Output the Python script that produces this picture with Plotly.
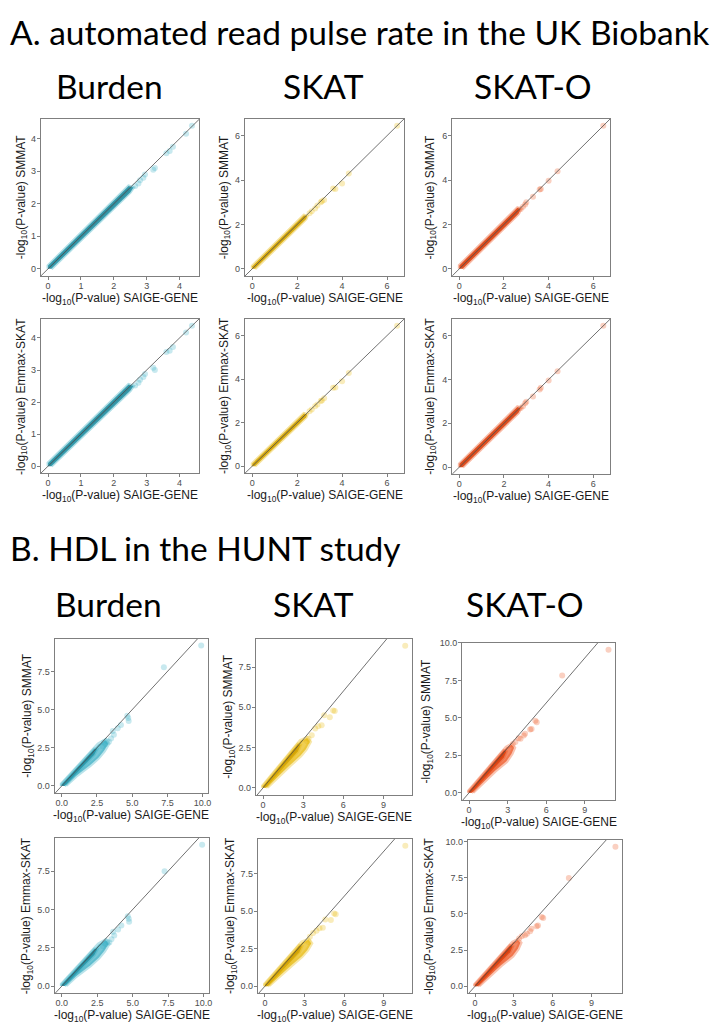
import plotly.graph_objects as go

W, H = 725, 1023

# ---------------- A. automated read pulse rate, UK Biobank ----------------
# genes outside the dense band: x = SAIGE-GENE, y = SMMAT / Emmax-SKAT  (-log10 P)
A_BURDEN_SAIGE = [2.65, 2.75, 2.8, 2.9, 2.95, 3.2, 3.25, 3.6, 3.7, 3.8, 4.2, 4.38]
A_BURDEN_SMMAT = [2.55, 2.62, 2.72, 2.8, 2.9, 3.05, 3.1, 3.55, 3.62, 3.75, 4.15, 4.4]
A_BURDEN_EMMAX = [2.52, 2.6, 2.7, 2.78, 2.88, 3.07, 3.0, 3.56, 3.6, 3.72, 4.17, 4.38]
A_SKAT_SAIGE = [2.55, 2.65, 2.8, 2.9, 3.05, 3.1, 3.2, 3.6, 3.7, 4.0, 4.3, 6.45]
A_SKAT_SMMAT = [2.5, 2.6, 2.72, 2.85, 3.0, 3.05, 3.1, 3.62, 3.6, 3.85, 4.3, 6.45]
A_SKAT_EMMAX = [2.52, 2.6, 2.75, 2.83, 3.0, 3.02, 3.12, 3.6, 3.62, 3.9, 4.28, 6.45]
A_SKATO_SAIGE = [2.75, 2.85, 2.95, 3.0, 3.3, 3.6, 3.65, 4.0, 4.4, 6.45]
A_SKATO_SMMAT = [2.7, 2.8, 2.9, 3.0, 3.25, 3.58, 3.6, 3.97, 4.4, 6.45]
A_SKATO_EMMAX = [2.7, 2.78, 2.92, 2.98, 3.22, 3.55, 3.62, 3.95, 4.38, 6.45]
# outline of the dense band of genes
A_BURDEN_BAND_SAIGE = [0.0, 0.0, 2.45, 2.6, 2.5, 0.1]
A_BURDEN_BAND_OTHER = [0.0, 0.1, 2.55, 2.5, 2.35, 0.0]
A_SKAT_BAND_SAIGE = [0.0, 0.0, 2.3, 2.45, 2.4, 0.12]
A_SKAT_BAND_OTHER = [0.0, 0.12, 2.42, 2.38, 2.25, 0.0]
A_SKATO_BAND_SAIGE = [0.0, 0.0, 2.6, 2.75, 2.65, 0.15]
A_SKATO_BAND_OTHER = [0.0, 0.15, 2.75, 2.68, 2.48, 0.0]

# ---------------- B. HDL, HUNT study ----------------
B_BURDEN_SAIGE = [2.9, 3.0, 3.1, 3.2, 3.35, 3.5, 3.62, 3.7, 3.97, 4.2, 4.65, 4.72, 4.75, 7.25, 9.9]
B_BURDEN_SMMAT = [2.6, 2.85, 2.75, 2.95, 2.9, 3.1, 3.6, 3.35, 3.78, 3.99, 4.6, 4.45, 4.25, 7.78, 9.2]
B_BURDEN_EMMAX = [2.6, 2.8, 2.75, 2.9, 2.85, 3.05, 3.55, 3.3, 3.7, 3.95, 4.55, 4.4, 4.2, 7.5, 9.22]
B_SKAT_SAIGE = [3.3, 3.4, 3.64, 3.9, 4.13, 4.38, 4.57, 4.99, 5.24, 5.36, 10.63]
B_SKAT_SMMAT = [2.9, 3.05, 3.27, 3.68, 3.82, 3.89, 4.5, 4.38, 4.8, 4.77, 8.83]
B_SKAT_EMMAX = [2.95, 3.3, 3.55, 3.7, 3.87, 3.9, 4.45, 4.42, 4.85, 4.8, 9.37]
B_SKATO_SAIGE = [3.4, 3.6, 3.85, 4.0, 4.25, 4.35, 4.75, 4.86, 5.15, 5.26, 7.24, 10.84]
B_SKATO_SMMAT = [3.25, 3.38, 3.64, 3.6, 3.82, 3.93, 4.22, 4.25, 4.8, 4.7, 7.83, 9.55]
B_SKATO_EMMAX = [3.3, 3.45, 3.52, 3.64, 3.8, 3.98, 4.15, 4.2, 4.8, 4.72, 7.5, 9.66]
# outline of the whole cloud and of its dense core
B_BURDEN_CLOUD_SAIGE = [0.0, 0.0, 1.0, 2.0, 2.6, 3.1, 3.3, 3.0, 2.6, 2.0, 1.0, 0.3]
B_BURDEN_CLOUD_OTHER = [0.0, 0.12, 1.12, 2.12, 2.72, 3.0, 2.75, 2.3, 1.85, 1.35, 0.65, 0.05]
B_BURDEN_CORE_SAIGE = [0.0, 0.0, 2.3, 2.5, 2.3, 0.2]
B_BURDEN_CORE_OTHER = [0.0, 0.1, 2.42, 2.4, 2.05, 0.0]
B_SKAT_CLOUD_SAIGE = [0.0, 0.0, 1.0, 2.0, 2.8, 3.3, 3.5, 3.2, 2.8, 2.0, 1.0, 0.3]
B_SKAT_CLOUD_OTHER = [0.0, 0.12, 1.12, 2.12, 2.92, 3.1, 2.85, 2.4, 2.0, 1.4, 0.65, 0.05]
B_SKAT_CORE_SAIGE = [0.0, 0.0, 2.6, 2.8, 2.6, 0.2]
B_SKAT_CORE_OTHER = [0.0, 0.1, 2.72, 2.65, 2.25, 0.0]
B_SKATO_CLOUD_SAIGE = [0.0, 0.0, 1.0, 2.0, 2.9, 3.3, 3.5, 3.3, 2.9, 2.0, 1.0, 0.3]
B_SKATO_CLOUD_OTHER = [0.0, 0.12, 1.12, 2.12, 3.02, 3.2, 3.0, 2.6, 2.1, 1.45, 0.65, 0.05]
B_SKATO_CORE_SAIGE = [0.0, 0.0, 2.7, 2.9, 2.7, 0.2]
B_SKATO_CORE_OTHER = [0.0, 0.1, 2.82, 2.75, 2.35, 0.0]

# tick labels
TICKS_1 = [0, 1, 2, 3, 4]
TICKS_2 = [0, 2, 4, 6]
TICKS_3 = [0, 3, 6, 9]
TICKS_25 = [0.0, 2.5, 5.0, 7.5, 10.0]

COLORS = {  # (light points, dense core)
    "Burden": ("#3AAFC4", "#1E8293"),
    "SKAT": ("#E8B90C", "#C99A00"),
    "SKAT-O": ("#EE5522", "#D23A08"),
}

AX_FONT = "Liberation Sans, Arial, sans-serif"
BIG_FONT = "Lato, Carlito, sans-serif"


def rgba(hexc, a):
    h = hexc.lstrip("#")
    return "rgba(%d,%d,%d,%.2f)" % (int(h[0:2], 16), int(h[2:4], 16), int(h[4:6], 16), a)


def span(*lists):
    vals = [v for lst in lists for v in lst]
    lo, hi = min(vals), max(vals)
    pad = 0.05 * (hi - lo)
    return [lo - pad, hi + pad]


# box = (left, top, right, bottom) in px
panels = [
    dict(box=(33, 107, 192, 265), test="Burden", x=A_BURDEN_SAIGE, y=A_BURDEN_SMMAT,
         core=(A_BURDEN_BAND_SAIGE, A_BURDEN_BAND_OTHER), cloud=None,
         xt=TICKS_1, yt=TICKS_1, xf="", yf="", ylab="SMMAT", yoff=19),
    dict(box=(238, 107, 398, 265), test="SKAT", x=A_SKAT_SAIGE, y=A_SKAT_SMMAT,
         core=(A_SKAT_BAND_SAIGE, A_SKAT_BAND_OTHER), cloud=None,
         xt=TICKS_2, yt=TICKS_2, xf="", yf="", ylab="SMMAT", yoff=20),
    dict(box=(446, 107, 605, 265), test="SKAT-O", x=A_SKATO_SAIGE, y=A_SKATO_SMMAT,
         core=(A_SKATO_BAND_SAIGE, A_SKATO_BAND_OTHER), cloud=None,
         xt=TICKS_2, yt=TICKS_2, xf="", yf="", ylab="SMMAT", yoff=21),
    dict(box=(33, 308, 192, 463), test="Burden", x=A_BURDEN_SAIGE, y=A_BURDEN_EMMAX,
         core=(A_BURDEN_BAND_SAIGE, A_BURDEN_BAND_OTHER), cloud=None,
         xt=TICKS_1, yt=TICKS_1, xf="", yf="", ylab="Emmax-SKAT", yoff=19),
    dict(box=(238, 308, 398, 463), test="SKAT", x=A_SKAT_SAIGE, y=A_SKAT_EMMAX,
         core=(A_SKAT_BAND_SAIGE, A_SKAT_BAND_OTHER), cloud=None,
         xt=TICKS_2, yt=TICKS_2, xf="", yf="", ylab="Emmax-SKAT", yoff=20),
    dict(box=(446, 308, 605, 464), test="SKAT-O", x=A_SKATO_SAIGE, y=A_SKATO_EMMAX,
         core=(A_SKATO_BAND_SAIGE, A_SKATO_BAND_OTHER), cloud=None,
         xt=TICKS_2, yt=TICKS_2, xf="", yf="", ylab="Emmax-SKAT", yoff=21),
    dict(box=(47, 629, 201, 784), test="Burden", x=B_BURDEN_SAIGE, y=B_BURDEN_SMMAT,
         core=(B_BURDEN_CORE_SAIGE, B_BURDEN_CORE_OTHER),
         cloud=(B_BURDEN_CLOUD_SAIGE, B_BURDEN_CLOUD_OTHER),
         xt=TICKS_25, yt=TICKS_25, xf=".1f", yf=".1f", ylab="SMMAT", yoff=27),
    dict(box=(249, 629, 406, 786), test="SKAT", x=B_SKAT_SAIGE, y=B_SKAT_SMMAT,
         core=(B_SKAT_CORE_SAIGE, B_SKAT_CORE_OTHER),
         cloud=(B_SKAT_CLOUD_SAIGE, B_SKAT_CLOUD_OTHER),
         xt=TICKS_3, yt=TICKS_25, xf="", yf=".1f", ylab="SMMAT", yoff=27),
    dict(box=(456, 633, 610, 791), test="SKAT-O", x=B_SKATO_SAIGE, y=B_SKATO_SMMAT,
         core=(B_SKATO_CORE_SAIGE, B_SKATO_CORE_OTHER),
         cloud=(B_SKATO_CLOUD_SAIGE, B_SKATO_CLOUD_OTHER),
         xt=TICKS_3, yt=TICKS_25, xf="", yf=".1f", ylab="SMMAT", yoff=35),
    dict(box=(47, 829, 202, 985), test="Burden", x=B_BURDEN_SAIGE, y=B_BURDEN_EMMAX,
         core=(B_BURDEN_CORE_SAIGE, B_BURDEN_CORE_OTHER),
         cloud=(B_BURDEN_CLOUD_SAIGE, B_BURDEN_CLOUD_OTHER),
         xt=TICKS_25, yt=TICKS_25, xf=".1f", yf=".1f", ylab="Emmax-SKAT", yoff=27),
    dict(box=(251, 830, 406, 985), test="SKAT", x=B_SKAT_SAIGE, y=B_SKAT_EMMAX,
         core=(B_SKAT_CORE_SAIGE, B_SKAT_CORE_OTHER),
         cloud=(B_SKAT_CLOUD_SAIGE, B_SKAT_CLOUD_OTHER),
         xt=TICKS_3, yt=TICKS_25, xf="", yf=".1f", ylab="Emmax-SKAT", yoff=27),
    dict(box=(462, 831, 617, 985), test="SKAT-O", x=B_SKATO_SAIGE, y=B_SKATO_EMMAX,
         core=(B_SKATO_CORE_SAIGE, B_SKATO_CORE_OTHER),
         cloud=(B_SKATO_CLOUD_SAIGE, B_SKATO_CLOUD_OTHER),
         xt=TICKS_3, yt=TICKS_25, xf="", yf=".1f", ylab="Emmax-SKAT", yoff=38),
]

fig = go.Figure()
annotations = []
tick_font = dict(family=AX_FONT, size=9, color="#4D4D4D")
title_font = dict(family=AX_FONT, size=12, color="#1A1A1A")

for i, p in enumerate(panels, start=1):
    xr_name = "x" if i == 1 else "x%d" % i
    yr_name = "y" if i == 1 else "y%d" % i
    light, dense = COLORS[p["test"]]
    extra_x = list(p["core"][0]) + (list(p["cloud"][0]) if p["cloud"] else [])
    extra_y = list(p["core"][1]) + (list(p["cloud"][1]) if p["cloud"] else [])
    xr = span(p["x"], extra_x)
    yr = span(p["y"], extra_y)

    if p["cloud"]:
        fig.add_trace(go.Scatter(
            x=p["cloud"][0], y=p["cloud"][1], mode="lines", fill="toself",
            fillcolor=rgba(light, 0.7), line=dict(color=rgba(light, 0.35), width=4),
            xaxis=xr_name, yaxis=yr_name, hoverinfo="skip", showlegend=False))
    fig.add_trace(go.Scatter(
        x=p["core"][0], y=p["core"][1], mode="lines", fill="toself",
        fillcolor=rgba(dense, 0.9), line=dict(color=rgba(light, 0.4), width=3),
        xaxis=xr_name, yaxis=yr_name, hoverinfo="skip", showlegend=False))
    fig.add_trace(go.Scatter(
        x=p["x"], y=p["y"], mode="markers",
        marker=dict(size=6, color=rgba(light, 0.28), line=dict(width=0)),
        xaxis=xr_name, yaxis=yr_name, showlegend=False))
    lo, hi = min(xr[0], yr[0]), max(xr[1], yr[1])
    fig.add_trace(go.Scatter(
        x=[lo, hi], y=[lo, hi], mode="lines", line=dict(color="#4D4D4D", width=0.8),
        xaxis=xr_name, yaxis=yr_name, hoverinfo="skip", showlegend=False))

    l, t, r, b = p["box"]
    common = dict(showgrid=False, zeroline=False, showline=True, mirror=True,
                  linecolor="#7F7F7F", linewidth=1.3, ticks="outside", ticklen=3,
                  tickwidth=1, tickcolor="#7F7F7F", tickfont=tick_font)
    fig.layout["xaxis" if i == 1 else "xaxis%d" % i] = dict(
        domain=[l / W, r / W], range=xr, anchor=yr_name, tickvals=p["xt"],
        tickformat=p["xf"], ticklabelstandoff=-2, **common)
    fig.layout["yaxis" if i == 1 else "yaxis%d" % i] = dict(
        domain=[1 - b / H, 1 - t / H], range=yr, anchor=xr_name, tickvals=p["yt"],
        tickformat=p["yf"], ticklabelstandoff=-1, **common)

    annotations.append(dict(
        text="-log<sub>10</sub>(P-value) SAIGE-GENE", x=(l + r) / 2 / W,
        y=1 - (b + 13) / H, xref="paper", yref="paper", xanchor="center",
        yanchor="top", showarrow=False, font=title_font))
    annotations.append(dict(
        text="-log<sub>10</sub>(P-value) " + p["ylab"], x=(l - p["yoff"]) / W,
        y=1 - (t + b) / 2 / H, xref="paper", yref="paper", xanchor="center",
        yanchor="middle", textangle=-90, showarrow=False, font=title_font))

big = dict(family=BIG_FONT, size=33.5, color="black")
for text, x, y in [
    ("A. automated read pulse rate in the UK Biobank", 0, 20),
    ("B. HDL in the HUNT study", 0, 538),
]:
    annotations.append(dict(text=text, x=x / W, y=1 - y / H, xref="paper", yref="paper",
                            xanchor="left", yanchor="middle", showarrow=False, font=big))
for text, x, y in [
    ("Burden", 102, 74), ("SKAT", 317, 74), ("SKAT-O", 527, 74),
    ("Burden", 101, 594), ("SKAT", 307, 594), ("SKAT-O", 519, 594),
]:
    annotations.append(dict(text=text, x=x / W, y=1 - y / H, xref="paper", yref="paper",
                            xanchor="center", yanchor="middle", showarrow=False, font=big))

fig.update_layout(
    width=W, height=H, margin=dict(l=0, r=0, t=0, b=0),
    paper_bgcolor="white", plot_bgcolor="white",
    annotations=annotations, showlegend=False)

fig.write_html("out.html")
